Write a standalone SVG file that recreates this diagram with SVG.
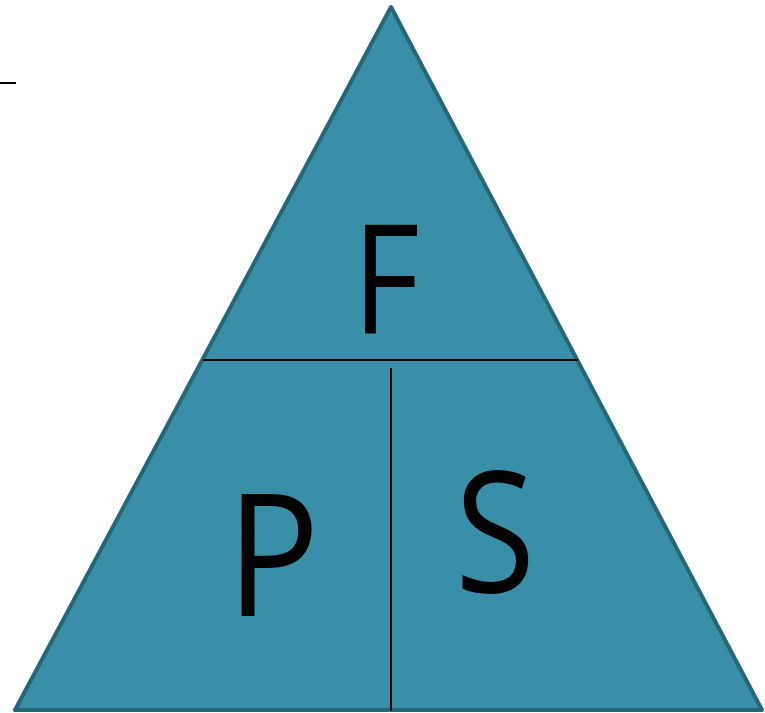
<svg xmlns="http://www.w3.org/2000/svg" width="765" height="713" viewBox="0 0 765 713">
<style>
.lbl{font-family:"Open Sans","Liberation Sans",sans-serif;fill:#000;text-anchor:middle}
.div{stroke:#000;stroke-width:2;fill:none}
</style>
<rect width="765" height="713" fill="#fff"/>
<line x1="0" y1="83" x2="16" y2="83" stroke="#000" stroke-width="2"/>
<g id="triangle">
<polygon points="391,7 15,710 762,710" fill="#3A8FA8" stroke="#256678" stroke-width="4" stroke-linejoin="round"/>
</g>
<g id="connectors">
<line class="div" x1="203" y1="360" x2="578" y2="360"/>
<line class="div" x1="391" y1="368" x2="391" y2="711"/>
</g>
<g id="node-F"><text class="lbl" transform="translate(386,334) scale(0.86,1)" font-size="152">F</text></g>
<g id="node-P"><text class="lbl" transform="translate(273,616) scale(0.91,1)" font-size="170">P</text></g>
<g id="node-S"><text class="lbl" transform="translate(495,592) scale(0.87,1)" font-size="168">S</text></g>
</svg>
